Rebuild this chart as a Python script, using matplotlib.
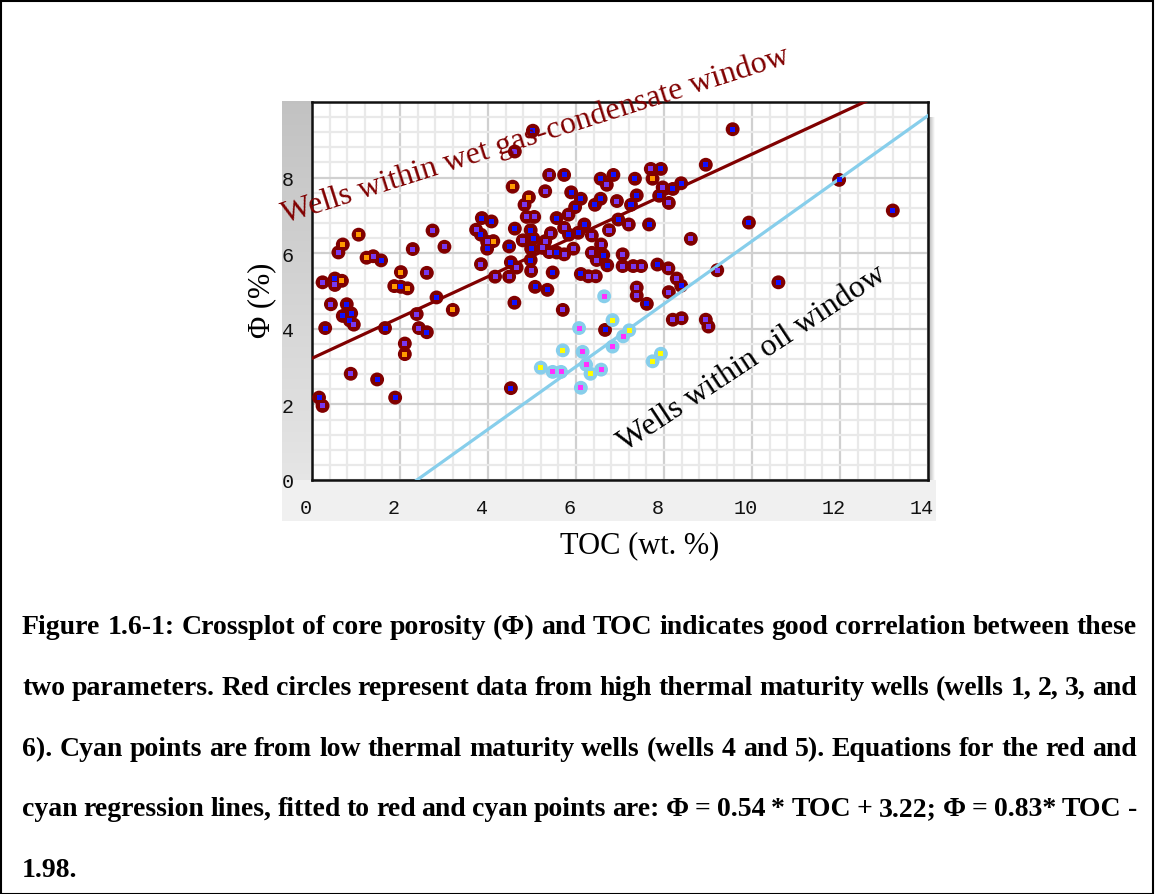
import matplotlib
matplotlib.use("Agg")
import matplotlib.pyplot as plt
import numpy as np
from matplotlib.ticker import MultipleLocator
from matplotlib.patches import Rectangle
from matplotlib.transforms import ScaledTranslation

# ---------------------------------------------------------------------------
# Core data: TOC (wt. %) vs porosity (%)
# inner dot codes: b = blue, p = purple, o = orange, m = magenta, y = yellow
# ---------------------------------------------------------------------------
# high thermal maturity wells (1, 2, 3, 6)
red_toc = [1.06, 0.70, 0.60, 2.74, 2.29, 3.01, 1.24, 1.39, 1.57, 2.02,
           2.61, 0.24, 0.52, 0.68, 0.52, 1.87, 2.02, 2.17, 2.83, 0.43,
           0.79, 0.70, 0.89, 0.86, 0.95, 0.30, 1.66, 2.38, 3.20, 2.43,
           2.61, 2.11, 2.11, 0.88, 1.48, 0.16, 0.24, 1.89, 4.52, 4.60,
           5.02, 4.61, 5.39, 5.73, 4.56, 5.30, 4.93, 4.83, 5.89, 6.11,
           5.98, 5.83, 5.56, 4.88, 5.05, 3.86, 4.08, 3.73, 3.84, 3.98,
           4.12, 3.98, 3.84, 4.61, 4.97, 5.43, 6.19, 5.73, 5.84, 6.05,
           4.79, 5.03, 5.30, 4.48, 4.98, 5.24, 5.39, 5.56, 5.73, 5.94,
           4.52, 4.97, 4.65, 4.98, 4.16, 4.48, 5.47, 6.11, 6.28, 6.45,
           5.07, 5.35, 5.70, 7.70, 7.93, 8.95, 6.85, 6.56, 6.70, 7.34,
           7.74, 7.97, 8.20, 8.39, 7.89, 8.11, 7.38, 7.25, 6.93, 6.56,
           6.43, 6.36, 6.75, 6.96, 7.20, 7.66, 6.57, 8.61, 6.36, 6.62,
           6.47, 6.71, 7.06, 7.06, 7.30, 7.48, 7.85, 8.10, 8.29, 8.39,
           8.11, 7.38, 7.38, 7.61, 8.20, 8.40, 8.95, 9.01, 6.66, 9.56,
           11.98, 13.20, 9.93, 9.21, 10.60]
red_phi = [6.49, 6.23, 6.02, 6.60, 6.11, 6.17, 5.88, 5.92, 5.81, 5.50,
           5.48, 5.23, 5.33, 5.27, 5.16, 5.13, 5.11, 5.07, 4.83, 4.65,
           4.65, 4.34, 4.41, 4.22, 4.11, 4.02, 4.02, 4.39, 4.50, 4.02,
           3.91, 3.61, 3.33, 2.81, 2.66, 2.18, 1.96, 2.18, 2.43, 4.69,
           9.24, 8.69, 8.07, 8.07, 7.76, 7.64, 7.48, 7.28, 7.61, 7.44,
           7.22, 7.02, 6.93, 6.96, 6.96, 6.93, 6.84, 6.62, 6.49, 6.30,
           6.32, 6.12, 5.71, 6.65, 6.61, 6.53, 6.76, 6.67, 6.49, 6.54,
           6.34, 6.39, 6.32, 6.18, 6.12, 6.14, 6.03, 6.02, 5.97, 6.12,
           5.76, 5.82, 5.62, 5.53, 5.38, 5.38, 5.49, 5.45, 5.39, 5.39,
           5.11, 5.03, 4.50, 8.23, 8.23, 8.34, 8.07, 7.97, 7.81, 7.97,
           7.97, 7.74, 7.70, 7.85, 7.52, 7.33, 7.53, 7.28, 7.38, 7.44,
           7.28, 6.47, 6.61, 6.89, 6.76, 6.76, 6.23, 6.38, 6.01, 5.95,
           5.82, 5.68, 5.97, 5.66, 5.66, 5.66, 5.70, 5.60, 5.33, 5.14,
           4.97, 5.09, 4.88, 4.66, 4.24, 4.28, 4.24, 4.06, 3.97, 9.28,
           7.94, 7.13, 6.81, 5.55, 5.23]
red_dot = list("ooppppopbo" "ppbopobobp" "bbbbpbbpop" "bpopbbpbbb"
               "bppbopopbb" "bpbppbbpbp" "obpbbpbpbb" "pbpbbppbpp"
               "bbppppbbpp" "bbppbbbbpb" "opbbbpbbpb" "bppbpbpppb"
               "pbppppbppb" "pppbppppbb" "bbbpb")

# low thermal maturity wells (4, 5)
cyan_toc = [6.64, 6.83, 6.07, 5.70, 6.15, 6.23, 5.20, 5.47, 5.66, 6.33,
            6.57, 6.11, 6.83, 7.07, 7.21, 7.74, 7.93]
cyan_phi = [4.86, 4.23, 4.02, 3.43, 3.39, 3.05, 2.97, 2.86, 2.86, 2.81,
            2.92, 2.44, 3.53, 3.80, 3.96, 3.14, 3.34]
cyan_dot = list("mymymmymmymmmmyyy")

# regression lines: phi = slope * TOC + intercept
red_fit = (0.54, 3.22)
cyan_fit = (0.83, -1.98)

x_ticks = [0, 2, 4, 6, 8, 10, 12, 14]
y_ticks = [0, 2, 4, 6, 8]

caption_lines = [
    "Figure 1.6-1: Crossplot of core porosity (\u03a6) and TOC indicates good correlation between these",
    "two parameters. Red circles represent data from high thermal maturity wells (wells 1, 2, 3, and",
    "6). Cyan points are from low thermal maturity wells (wells 4 and 5). Equations for the red and",
    "cyan regression lines, fitted to red and cyan points are: \u03a6 = 0.54 * TOC + 3.22; \u03a6 = 0.83* TOC -",
    "1.98.",
]

dot_colors = {"b": "#1010ff", "p": "#7838f0", "o": "#ff9a00",
              "m": "#ff30ff", "y": "#ffff00"}

# ---------------------------------------------------------------------------
W, H = 1155, 895
fig = plt.figure(figsize=(W / 100, H / 100), dpi=100)
fig.patch.set_facecolor("white")


def fx(px):
    return px / W


def fy(py):
    return 1 - py / H


serif = "Liberation Serif"

# chart widget background: gray label gutters and a drop shadow
bg = fig.add_axes([fx(282), fy(522), fx(936) - fx(282), fy(102) - fy(522)])
bg.axis("off")
bg.add_patch(Rectangle((282, 481), 654, 41, facecolor="#f0f0f0", edgecolor="none"))
grad = np.linspace(0.76, 0.90, 256).reshape(-1, 1)
bg.imshow(np.dstack([grad, grad, grad]), extent=(282, 313, 481, 102),
          aspect="auto", interpolation="bilinear")
sh = np.linspace(0.68, 0.94, 64).reshape(-1, 1)
bg.imshow(np.dstack([sh, sh, sh]), extent=(328, 934, 492, 482),
          aspect="auto", interpolation="bilinear")
sv = np.linspace(0.72, 1.0, 64).reshape(1, -1)
bg.imshow(np.dstack([sv, sv, sv]), extent=(929, 935, 481, 118),
          aspect="auto", interpolation="bilinear")
bg.set_xlim(282, 936)
bg.set_ylim(522, 102)

ax = fig.add_axes([fx(312), fy(481), fx(928) - fx(312), fy(103) - fy(481)])
ax.set_xlim(0, 14)
ax.set_ylim(0, 10)
ax.set_facecolor("white")
ax.set_axisbelow(True)
ax.xaxis.set_minor_locator(MultipleLocator(0.4))
ax.yaxis.set_minor_locator(MultipleLocator(0.4))
ax.grid(which="minor", color="#e9e9e9", lw=1.6)
ax.grid(which="major", color="#d0d0d0", lw=1.6)
ax.set_xticks(x_ticks)
ax.set_yticks(y_ticks)
ax.set_xticklabels([str(t) for t in x_ticks])
ax.set_yticklabels([str(t) for t in y_ticks])
ax.tick_params(which="both", length=0)
ax.tick_params(axis="x", pad=13, labelsize=14.5, labelcolor="#111111")
ax.tick_params(axis="y", pad=13, labelsize=14.5, labelcolor="#111111")
for lab in ax.get_xticklabels() + ax.get_yticklabels():
    lab.set_fontfamily("Liberation Mono")
for lab in ax.get_xticklabels():
    lab.set_transform(lab.get_transform() + ScaledTranslation(-0.06, 0, fig.dpi_scale_trans))
for sp in ax.spines.values():
    sp.set_color("#111111")
    sp.set_linewidth(1.8)

# markers: outer discs, regression lines, then the small inner squares
ax.scatter(red_toc, red_phi, s=100, marker="o", color="#800000",
           edgecolors="none", zorder=3)
ax.scatter(cyan_toc, cyan_phi, s=100, marker="o", color="#87ceeb",
           edgecolors="none", zorder=3)

xs = np.linspace(0, 14, 200)
ax.plot(xs, red_fit[0] * xs + red_fit[1], color="#800000", lw=2.3, zorder=4)
ax.plot(xs, cyan_fit[0] * xs + cyan_fit[1], color="#87ceeb", lw=2.3, zorder=4)

ax.scatter(red_toc, red_phi, s=13, marker="s",
           color=[dot_colors[c] for c in red_dot], edgecolors="none", zorder=5)
ax.scatter(cyan_toc, cyan_phi, s=13, marker="s",
           color=[dot_colors[c] for c in cyan_dot], edgecolors="none", zorder=5)

# axis titles
fig.text(fx(640), fy(546), "TOC (wt. %)", family=serif, fontsize=22,
         ha="center", va="center")
fig.text(fx(262), fy(300), "\u03a6 (%)", family=serif, fontsize=22,
         ha="center", va="center", rotation=90)

# in-plot annotations
fig.text(fx(536), fy(136), "Wells within wet gas-condensate window",
         family=serif, fontsize=23, color="#800000", rotation=17.6,
         rotation_mode="anchor", ha="center", va="center", zorder=10)
fig.text(fx(752), fy(359), "Wells within oil window",
         family=serif, fontsize=23, color="black", rotation=33.5,
         rotation_mode="anchor", ha="center", va="center", zorder=10)

# justified caption
renderer = fig.canvas.get_renderer()
left_px, right_px = 22, 1137
baselines = [634, 695, 756, 816, 877]
cap_size = 20
for i, (line, base) in enumerate(zip(caption_lines, baselines)):
    if i == len(caption_lines) - 1:
        fig.text(fx(left_px), fy(base), line, family=serif, fontsize=cap_size,
                 fontweight="bold", va="baseline", ha="left")
        continue
    words = line.split(" ")
    texts = [fig.text(0, fy(base), w, family=serif, fontsize=cap_size,
                      fontweight="bold", va="baseline", ha="left")
             for w in words]
    widths = [t.get_window_extent(renderer).width for t in texts]
    gap = (right_px - left_px - sum(widths)) / (len(words) - 1)
    x = left_px
    for t, w in zip(texts, widths):
        t.set_x(fx(x))
        x += w + gap

# outer frame
fig.patches.append(Rectangle((0.5 / W, 0.5 / H), 1 - 2.5 / W, 1 - 2.5 / H,
                             transform=fig.transFigure, fill=False,
                             edgecolor="black", lw=1.5))

fig.savefig("out.png", dpi=100)
